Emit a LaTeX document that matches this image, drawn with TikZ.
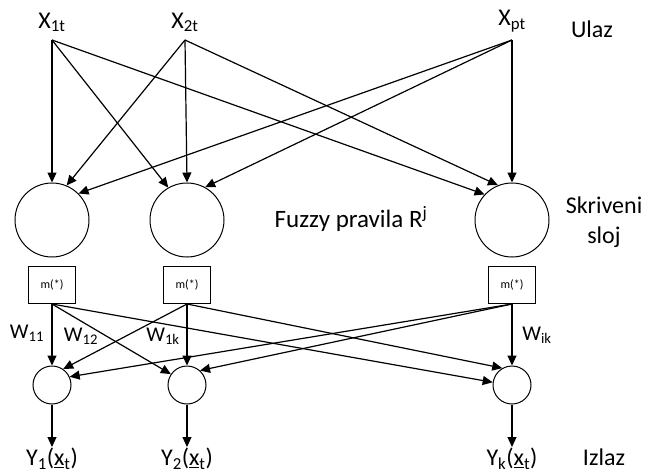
\documentclass[tikz,border=0pt]{standalone}
\usepackage{fontspec}
\setmainfont{Carlito}
\usetikzlibrary{arrows.meta}
\tikzset{%
  rule/.style     = {circle, draw, line width=1pt, minimum size=74pt, inner sep=0pt},%
  outnode/.style  = {circle, draw, line width=1pt, minimum size=38pt, inner sep=0pt},%
  mbox/.style     = {rectangle, draw, line width=1pt, minimum width=47pt,%
                     minimum height=37pt, font=\fontsize{12}{14}\selectfont},%
  lbl/.style      = {font=\fontsize{24}{30}\selectfont, inner sep=1pt, align=center},%
  inlbl/.style    = {lbl, anchor=south, outer sep=7pt},%
  wlbl/.style     = {font=\fontsize{21}{24}\selectfont, inner sep=1pt},%
  link/.style     = {->, >={Triangle[length=10pt,width=9pt]}, line width=1.2pt}%
}

\begin{document}
\begin{tikzpicture}[x=1pt,y=-1pt]
	\useasboundingbox (0,0) rectangle (649,475);
	% ulaz
	\node [inlbl] (x1) at (52,40) {X\textsubscript{1t}};
	\node [inlbl] (x2) at (185,40) {X\textsubscript{2t}};
	\node [inlbl] (xp) at (512,40) {X\textsubscript{pt}};
	\node [lbl] (ulaz) at (592,29) {Ulaz};
	% skriveni sloj
	\node [rule] (h1) at (52,220) {};
	\node [rule] (h2) at (187,220) {};
	\node [rule] (h3) at (512,220) {};
	\node [lbl, font=\fontsize{25}{30}\selectfont] (fuzzy) at (351,219) {Fuzzy pravila R\textsuperscript{j}};
	\node [lbl] (skriveni) at (604,222) {Skriveni\\sloj};
	\node [mbox] (m1) at (52,285) {m(*)};
	\node [mbox] (m2) at (187,285) {m(*)};
	\node [mbox] (m3) at (512,285) {m(*)};
	% izlaz
	\node [outnode] (o1) at (52,385) {};
	\node [outnode] (o2) at (187,385) {};
	\node [outnode] (o3) at (512,385) {};
	\node [lbl, anchor=north] (y1) at (52,447) {Y\textsubscript{1}(\underline{x}\textsubscript{t})};
	\node [lbl, anchor=north] (y2) at (187,447) {Y\textsubscript{2}(\underline{x}\textsubscript{t})};
	\node [lbl, anchor=north] (yk) at (512,447) {Y\textsubscript{k}(\underline{x}\textsubscript{t})};
	\node [lbl] (izlaz) at (604,457) {Izlaz};
	\node [wlbl] (w11) at (27,333) {W\textsubscript{11}};
	\node [wlbl] (w12) at (81,336) {W\textsubscript{12}};
	\node [wlbl] (w1k) at (163,336) {W\textsubscript{1k}};
	\node [wlbl] (wik) at (537,335) {W\textsubscript{ik}};

	\draw [link] (x1.south) -- (h1.north);
	\draw [link] (x1.south) -- (h2.120);
	\draw [link] (x1.south) -- (h3.137);
	\draw [link] (x2.south) -- (h1.67);
	\draw [link] (x2.south) -- (h2.north);
	\draw [link] (x2.south) -- (h3.112);
	\draw [link] (xp.south) -- (h1.45);
	\draw [link] (xp.south) -- (h2.61);
	\draw [link] (xp.south) -- (h3.north);

	\draw [link] (m1.south) -- (o1.north);
	\draw [link] (m1.south) -- (o2.146);
	\draw [link] (m1.south) -- (o3.172);
	\draw [link] (m2.south) -- (o1.55);
	\draw [link] (m2.south) -- (o2.north);
	\draw [link] (m2.south) -- (o3.120);
	\draw [link] (m3.south) -- (o1.25);
	\draw [link] (m3.south) -- (o2.48);
	\draw [link] (m3.south) -- (o3.north);

	\draw [link] (o1) -- (y1);
	\draw [link] (o2) -- (y2);
	\draw [link] (o3) -- (yk);
\end{tikzpicture}
\end{document}
